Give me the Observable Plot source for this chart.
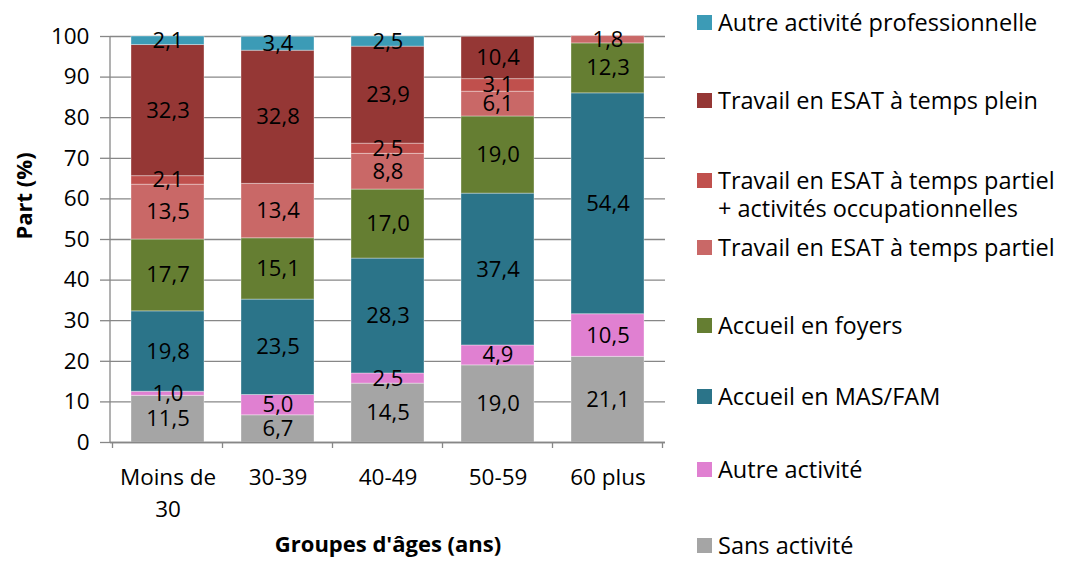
<!DOCTYPE html>
<html>
<head>
<meta charset="utf-8">
<script src="https://cdn.jsdelivr.net/npm/d3@7"></script>
<script src="https://cdn.jsdelivr.net/npm/@observablehq/plot@0.6"></script>
<style>
  html, body { margin: 0; padding: 0; background: #fff; }
  #wrap { position: relative; width: 1072px; height: 561px; font-family: "Open Sans", Lato, sans-serif; }
  #legend { position: absolute; left: 0; top: 0; }
  .lg { position: absolute; left: 697px; display: flex; align-items: flex-start; font-size: 23.5px; line-height: 28px; color: #000; white-space: nowrap; }
  .lg .sw { width: 15px; height: 15px; margin-top: 7px; margin-right: 6px; flex: none; }
</style>
</head>
<body>
<div id="wrap"><div id="chart"></div><div id="legend"></div></div>
<script>
// ---- data ----
const groups = ["Moins de 30", "30-39", "40-49", "50-59", "60 plus"];
const groupTickLabels = ["Moins de\n30", "30-39", "40-49", "50-59", "60 plus"];
const series = [
  "Sans activité",
  "Autre activité",
  "Accueil en MAS/FAM",
  "Accueil en foyers",
  "Travail en ESAT à temps partiel",
  "Travail en ESAT à temps partiel + activités occupationnelles",
  "Travail en ESAT à temps plein",
  "Autre activité professionnelle"
];
const legendLabels = [
  "Sans activité",
  "Autre activité",
  "Accueil en MAS/FAM",
  "Accueil en foyers",
  "Travail en ESAT à temps partiel",
  "Travail en ESAT à temps partiel\n+ activités occupationnelles",
  "Travail en ESAT à temps plein",
  "Autre activité professionnelle"
];
const sansActivite      = [11.5, 6.7, 14.5, 19.0, 21.1];
const autreActivite     = [1.0, 5.0, 2.5, 4.9, 10.5];
const accueilMasFam     = [19.8, 23.5, 28.3, 37.4, 54.4];
const accueilFoyers     = [17.7, 15.1, 17.0, 19.0, 12.3];
const esatPartiel       = [13.5, 13.4, 8.8, 6.1, 1.8];
const esatPartielOccup  = [2.1, 0, 2.5, 3.1, 0];
const esatPlein         = [32.3, 32.8, 23.9, 10.4, 0];
const autreActPro       = [2.1, 3.4, 2.5, 0, 0];
const yTicks = [0, 10, 20, 30, 40, 50, 60, 70, 80, 90, 100];
const yLabel = "Part (%)";
const xLabel = "Groupes d'âges (ans)";
const colors = ["#A5A5A5", "#E080D1", "#2B7489", "#657E32", "#C96867", "#C0504D", "#953735", "#3C9BB6"];

const seriesValues = [sansActivite, autreActivite, accueilMasFam, accueilFoyers, esatPartiel, esatPartielOccup, esatPlein, autreActPro];
const rows = [];
series.forEach((s, si) => groups.forEach((g, gi) => rows.push({group: g, series: s, value: seriesValues[si][gi]})));
const fmt = v => v.toFixed(1).replace(".", ",");
const gray = "#878787";
const FONT = "'Open Sans', Lato, sans-serif";
const FS = 22.5;
const FSL = 22;

const axisLines = (index, scales, values, dims) => {
  const g = d3.create("svg:g");
  g.append("line")
    .attr("x1", dims.marginLeft).attr("x2", dims.marginLeft)
    .attr("y1", dims.marginTop).attr("y2", dims.height - dims.marginBottom)
    .attr("stroke", gray).attr("stroke-width", 1.3);
  const x = scales.x, step = x.step(), bw = x.bandwidth();
  const bounds = groups.map(gr => x(gr) + bw / 2 - step / 2);
  bounds.push(x(groups[groups.length - 1]) + bw / 2 + step / 2);
  const y0 = dims.height - dims.marginBottom;
  for (const b of bounds) {
    g.append("line").attr("x1", b).attr("x2", b).attr("y1", y0).attr("y2", y0 + 6)
      .attr("stroke", gray).attr("stroke-width", 1.3);
  }
  return g.node();
};

const chart = Plot.plot({
  width: 1072,
  height: 561,
  marginLeft: 110,
  marginRight: 407,
  marginTop: 36,
  marginBottom: 119,
  style: {fontFamily: FONT, fontSize: FS + "px", color: "#000", background: "#fff"},
  x: {domain: groups, paddingInner: 0.333, paddingOuter: 0.1667, axis: null},
  y: {domain: [0, 100], axis: null},
  color: {domain: series, range: colors},
  marks: [
    Plot.gridY(yTicks, {stroke: gray, strokeOpacity: 1, strokeWidth: 1.3}),
    Plot.barY(rows, {x: "group", y: "value", fill: "series", order: series, stroke: "#fff", strokeOpacity: 0.35, strokeWidth: 1}),
    Plot.text(rows.filter(d => d.value > 0), Plot.stackY({x: "group", y: "value", z: "series", order: series, text: d => fmt(d.value), fill: "#000", fontSize: FSL})),
    Plot.ruleY([0], {stroke: gray, strokeWidth: 1.3}),
    axisLines,
    Plot.axisY({ticks: yTicks, tickSize: 10, tickPadding: 11, stroke: gray, strokeWidth: 1.3, fill: "#000", fontSize: FS, label: null}),
    Plot.axisX({tickSize: 0, tickPadding: 20, fontSize: FS, fill: "#000", lineHeight: 1.42, tickFormat: d => groupTickLabels[groups.indexOf(d)], label: null}),
    Plot.text([yLabel], {frameAnchor: "left", dx: -86, rotate: -90, fontWeight: "bold", fontSize: 22, fill: "#000"}),
    Plot.text([xLabel], {frameAnchor: "bottom", dy: 109, fontWeight: "bold", fontSize: 22, fill: "#000"})
  ]
});
document.getElementById("chart").appendChild(chart);

// legend (top-most series first)
const legendTops = [8, 86, 166, 233, 311, 382, 455, 531];
const legend = document.getElementById("legend");
const order = series.map((s, i) => i).reverse();
order.forEach((si, k) => {
  const row = document.createElement("div");
  row.className = "lg";
  row.style.top = legendTops[k] + "px";
  const sw = document.createElement("div");
  sw.className = "sw";
  sw.style.background = colors[si];
  const tx = document.createElement("div");
  tx.style.whiteSpace = "pre";
  tx.textContent = legendLabels[si];
  row.appendChild(sw);
  row.appendChild(tx);
  legend.appendChild(row);
});
</script>
</body>
</html>
